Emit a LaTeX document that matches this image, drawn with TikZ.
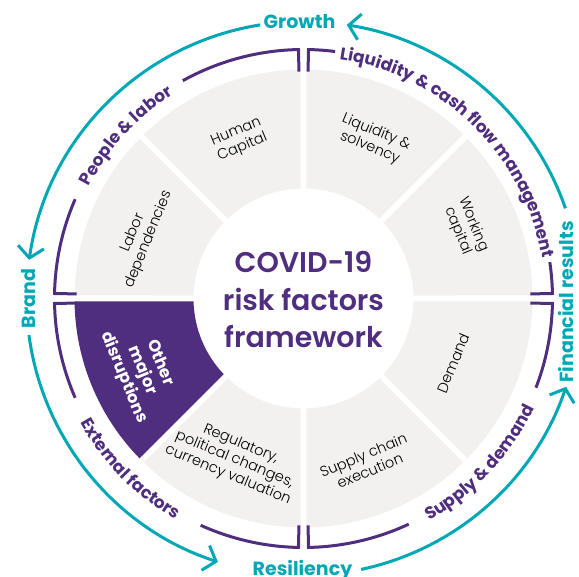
\documentclass[tikz,border=0pt]{standalone}
\usepackage{fontspec}
\setmainfont{Poppins}
\IfFontExistsTF{Poppins Light}{\newfontfamily\lightfont{Poppins Light}}{\newfontfamily\lightfont{Poppins}}
\IfFontExistsTF{Poppins SemiBold}{\newfontfamily\semifont{Poppins SemiBold}}{\newcommand\semifont{\bfseries}}
\usetikzlibrary{arrows.meta,decorations.text}
\definecolor{gtpurple}{HTML}{4F2D7F}
\definecolor{gtteal}{HTML}{00A7B5}
\definecolor{gtgray}{HTML}{F2F1F0}
\begin{document}
\begin{tikzpicture}[x=1pt,y=1pt,
  seglabel/.style={font=\lightfont\fontsize{14.5}{16.8}\selectfont, align=center, text=black, inner sep=0pt},
  bracket/.style={draw=gtpurple, line width=3pt},
  cyc/.style={draw=gtteal, line width=3pt, -{Straight Barb[length=11pt,width=26pt]}},
  cyclabel/.style={font=\bfseries\fontsize{19}{19}\selectfont, text=gtteal, inner sep=0pt},
  brlabel/.style={decorate, decoration={text along path, text align=center,
     text={|\bfseries\fontsize{17}{17}\selectfont\color{gtpurple}|#1}}}
]
\useasboundingbox (-303.5,-278.5) rectangle (275.5,298.5);
% segments
\foreach \a in {0,45,90,135,225,270,315} {
  \fill[gtgray] ({\a+1.56}:110) -- ({\a+0.75}:229) arc[start angle=\a+0.75, end angle=\a+44.25, radius=229]
     -- ({\a+43.44}:110) arc[start angle=\a+43.44, end angle=\a+1.56, radius=110] -- cycle;
}
\fill[gtpurple] ({180+1.56}:110) -- ({180+0.75}:229) arc[start angle=180.75, end angle=224.25, radius=229]
     -- ({180+43.44}:110) arc[start angle=223.44, end angle=181.56, radius=110] -- cycle;
% segment labels
\node[seglabel, rotate=22.5] (hc) at (112:171) {Human\\Capital};
\node[seglabel, rotate=67.5] (ld) at (159:174) {Labor\\dependencies};
\node[seglabel, rotate=-67.5, text=white, font=\bfseries\fontsize{16.5}{19.5}\selectfont] (om) at (204:177) {Other\\major\\disruptions};
\node[seglabel, rotate=-22.5] (rg) at (246.8:175.5) {Regulatory,\\political changes,\\currency valuation};
\node[seglabel, rotate=22.5] (sc) at (291:176) {Supply chain\\execution};
\node[seglabel, rotate=67.5] (dm) at (336.7:163) {Demand};
\node[seglabel, rotate=-67.5] (wc) at (23.6:177) {Working\\capital};
\node[seglabel, rotate=-22.5] (ls) at (66.3:173) {Liquidity \&\\solvency};
% title
\node[font=\semifont\fontsize{28.5}{37.5}\selectfont, text=gtpurple, align=center, inner sep=0pt] (title) at (0,-1.2) {COVID-19\\risk factors\\framework};
% brackets
\draw[bracket] (91.15:227) -- (91.15:249) arc[start angle=91.15, end angle=119, radius=249];
\draw[bracket] (156.5:249) arc[start angle=156.5, end angle=178.85, radius=249] -- (178.85:227);
\draw[bracket] (88.85:227) -- (88.85:249) arc[start angle=88.85, end angle=82.7, radius=249];
\draw[bracket] (8.4:249) arc[start angle=8.4, end angle=1.15, radius=249] -- (1.15:227);
\draw[bracket] (181.15:227) -- (181.15:249) arc[start angle=181.15, end angle=203.5, radius=249];
\draw[bracket] (245.6:249) arc[start angle=245.6, end angle=268.85, radius=249] -- (268.85:227);
\draw[bracket] (271.15:227) -- (271.15:249) arc[start angle=271.15, end angle=295, radius=249];
\draw[bracket] (339:249) arc[start angle=339, end angle=358.85, radius=249] -- (358.85:227);
% bracket labels
\path[brlabel={People {\&} labor}] (177:242) arc[start angle=177, end angle=98, radius=242];
\path[brlabel={Liquidity {\&} cash flow management}] (89:242) arc[start angle=89, end angle=2, radius=242];
\path[brlabel={External factors}] (183:255.5) arc[start angle=183, end angle=266, radius=255.5];
\path[brlabel={Supply {\&} demand}] (272:255.5) arc[start angle=272, end angle=362, radius=255.5];
% outer cycle
\node[cyclabel, anchor=base] (growth) at (-4,270.2) {Growth};
\node[cyclabel, anchor=base, rotate=90] (brand) at (-268,0) {Brand};
\node[cyclabel, anchor=base, rotate=90] (fin) at (269.5,-3.5) {Financial results};
\node[cyclabel, anchor=base] (res) at (-1,-277) {Resiliency};
\draw[cyc] (19:277) arc[start angle=19, end angle=81, radius=277];
\draw[cyc] (99:277) arc[start angle=99, end angle=172, radius=277];
\draw[cyc] (187.6:277) arc[start angle=187.6, end angle=252, radius=277];
\draw[cyc] (282:277) arc[start angle=282, end angle=341.4, radius=277];
\end{tikzpicture}
\end{document}
